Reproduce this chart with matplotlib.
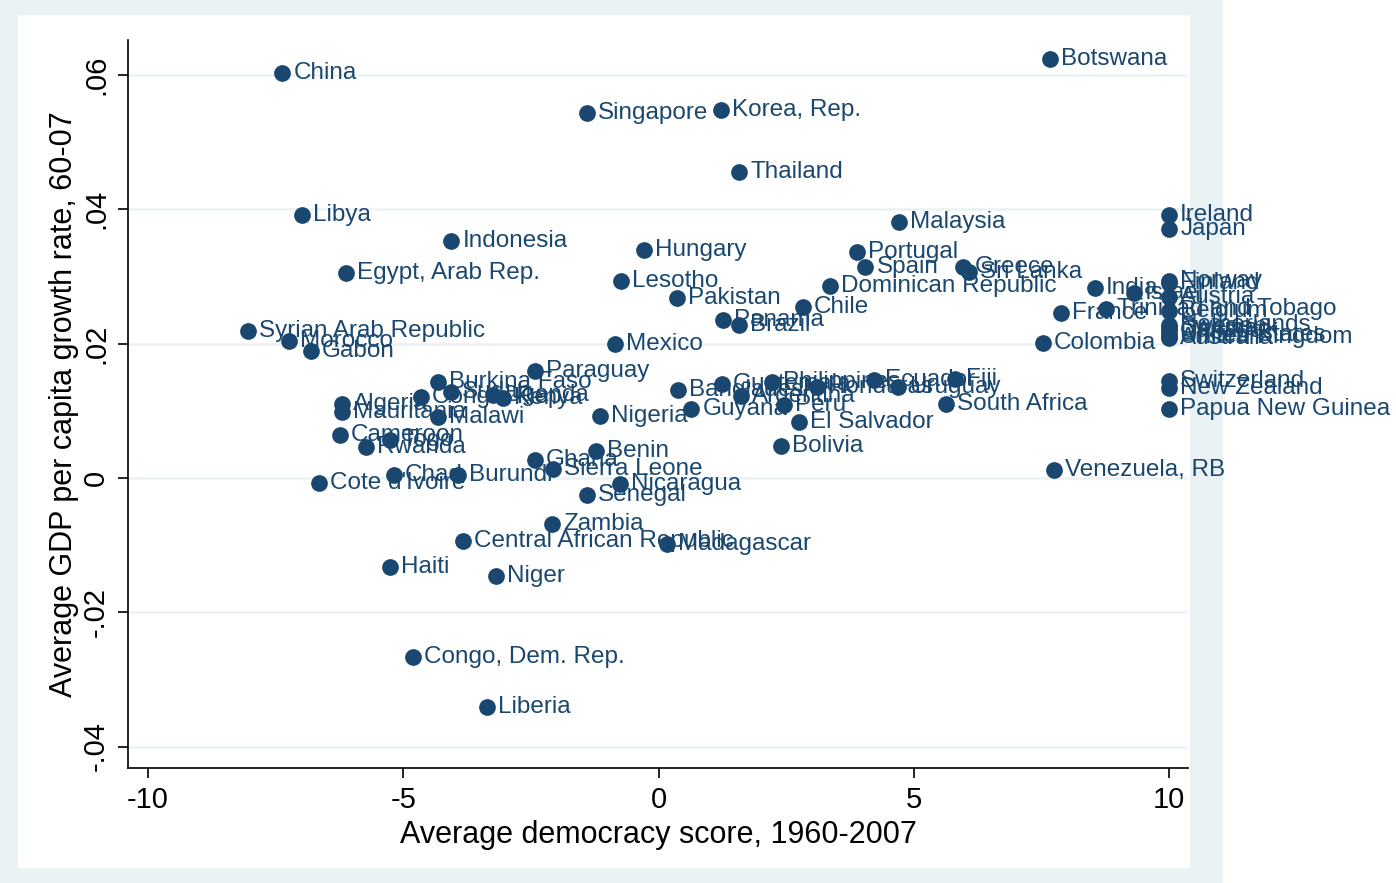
import matplotlib.pyplot as plt
from matplotlib.patches import Rectangle

# Average democracy score vs average GDP per capita growth, 1960-2007
countries = ['China', 'Botswana', 'Singapore', 'Korea, Rep.', 'Thailand', 'Libya',
             'Indonesia', 'Malaysia', 'Ireland', 'Japan', 'Hungary', 'Portugal',
             'Spain', 'Greece', 'Sri Lanka', 'Egypt, Arab Rep.', 'Lesotho',
             'Dominican Republic', 'India', 'Israel', 'Norway', 'Finland', 'Austria',
             'Belgium', 'Netherlands', 'Sweden', 'Denmark', 'Canada', 'United States',
             'United Kingdom', 'Australia', 'Trinidad and Tobago', 'France', 'Colombia',
             'Chile', 'Pakistan', 'Panama', 'Brazil', 'Mexico', 'Syrian Arab Republic',
             'Morocco', 'Gabon', 'Paraguay', 'Burkina Faso', 'Congo, Rep.', 'Sudan',
             'Uganda', 'Kenya', 'Algeria', 'Mauritania', 'Malawi', 'Nigeria', 'Cameroon',
             'Togo', 'Rwanda', 'Ghana', 'Benin', 'Sierra Leone', 'Chad', 'Burundi',
             "Cote d'Ivoire", 'Nicaragua', 'Senegal', 'Zambia', 'Central African Republic',
             'Madagascar', 'Haiti', 'Niger', 'Congo, Dem. Rep.', 'Liberia', 'Venezuela, RB',
             'Bolivia', 'El Salvador', 'South Africa', 'Fiji', 'Ecuador', 'Uruguay',
             'Honduras', 'Philippines', 'Argentina', 'Guatemala', 'Bangladesh', 'Peru',
             'Guyana', 'Switzerland', 'New Zealand', 'Papua New Guinea']

democracy = [-7.37, 7.67, -1.40, 1.22, 1.58, -6.98,
             -4.06, 4.71, 10, 10, -0.28, 3.89,
             4.05, 5.97, 6.08, -6.12, -0.73,
             3.36, 8.55, 9.31, 10, 10, 10,
             10, 10, 10, 10, 10, 10,
             10, 10, 8.77, 7.88, 7.53,
             2.83, 0.36, 1.26, 1.58, -0.85, -8.04,
             -7.24, -6.81, -2.42, -4.32, -4.65, -4.06,
             -3.25, -3.05, -6.20, -6.20, -4.32, -1.15, -6.24,
             -5.26, -5.73, -2.42, -1.22, -2.07, -5.18, -3.93,
             -6.65, -0.75, -1.40, -2.08, -3.83,
             0.17, -5.26, -3.18, -4.81, -3.36, 7.75,
             2.40, 2.75, 5.63, 5.81, 4.22, 4.69,
             3.10, 2.22, 1.62, 1.24, 0.38, 2.46,
             0.64, 10, 10, 10]

growth = [0.0603, 0.0624, 0.0543, 0.0548, 0.0456, 0.0392,
          0.0353, 0.0381, 0.0392, 0.0371, 0.0339, 0.0336,
          0.0314, 0.0314, 0.0307, 0.0305, 0.0293,
          0.0286, 0.0283, 0.0275, 0.0293, 0.0290, 0.0269,
          0.0249, 0.0228, 0.0225, 0.0222, 0.0218, 0.0213,
          0.0210, 0.0208, 0.0252, 0.0246, 0.0201,
          0.0255, 0.0268, 0.0235, 0.0228, 0.0200, 0.0219,
          0.0204, 0.0189, 0.0159, 0.0143, 0.0121, 0.0128,
          0.0124, 0.0119, 0.0110, 0.0098, 0.0091, 0.0092, 0.0064,
          0.0057, 0.0046, 0.0027, 0.0040, 0.0013, 0.0004, 0.0004,
          -0.0007, -0.0009, -0.0025, -0.0068, -0.0094,
          -0.0098, -0.0132, -0.0146, -0.0266, -0.0341, 0.0012,
          0.0048, 0.0083, 0.0110, 0.0147, 0.0146, 0.0135,
          0.0135, 0.0143, 0.0122, 0.0140, 0.0131, 0.0109,
          0.0103, 0.0144, 0.0134, 0.0103]

x_ticks = [-10, -5, 0, 5, 10]
y_ticks = [-0.04, -0.02, 0, 0.02, 0.04, 0.06]
y_ticklabels = ['-.04', '-.02', '0', '.02', '.04', '.06']

navy = '#1A476F'
light = '#EAF2F3'

plt.rcParams['font.family'] = ['Liberation Sans', 'DejaVu Sans']
plt.rcParams['axes.unicode_minus'] = False

fig = plt.figure(figsize=(13.96, 8.83), dpi=100, facecolor='white')
W, H = 1396, 883
# outer (light) graph region and inner white area
fig.patches.append(Rectangle((0, 0), 1223 / W, 1, transform=fig.transFigure,
                             facecolor=light, edgecolor='none', zorder=-10))
fig.patches.append(Rectangle((18 / W, 15 / H), (1190 - 18) / W, (868 - 15) / H,
                             transform=fig.transFigure, facecolor='white',
                             edgecolor='none', zorder=-9))

ax = fig.add_axes([128 / W, (H - 768) / H, (1188 - 128) / W, (768 - 40) / H])
ax.set_facecolor('none')

ax.scatter(democracy, growth, s=145, color=navy, zorder=3, linewidths=0)
for name, xv, yv in zip(countries, democracy, growth):
    ax.annotate(name, (xv, yv), xytext=(8, 0), textcoords='offset points',
                va='center', ha='left', fontsize=17.5, color=navy,
                annotation_clip=False, zorder=4)

ax.set_xlim(-10.39, 10.37)
ax.set_ylim(-0.0432, 0.0652)
ax.set_xticks(x_ticks)
ax.set_yticks(y_ticks)
ax.set_yticklabels(y_ticklabels, rotation=90, va='center')
ax.tick_params(axis='both', labelsize=21, length=7, width=1.2, direction='out', pad=6)

for yv in y_ticks:
    ax.axhline(yv, color=light, linewidth=1.8, zorder=1)

for side in ['top', 'right']:
    ax.spines[side].set_visible(False)
for side in ['left', 'bottom']:
    ax.spines[side].set_linewidth(1.2)

ax.set_xlabel('Average democracy score, 1960-2007', fontsize=22, labelpad=4)
ax.set_ylabel('Average GDP per capita growth rate, 60-07', fontsize=22, labelpad=2)

plt.savefig('out.png', dpi=100, facecolor=fig.get_facecolor())
